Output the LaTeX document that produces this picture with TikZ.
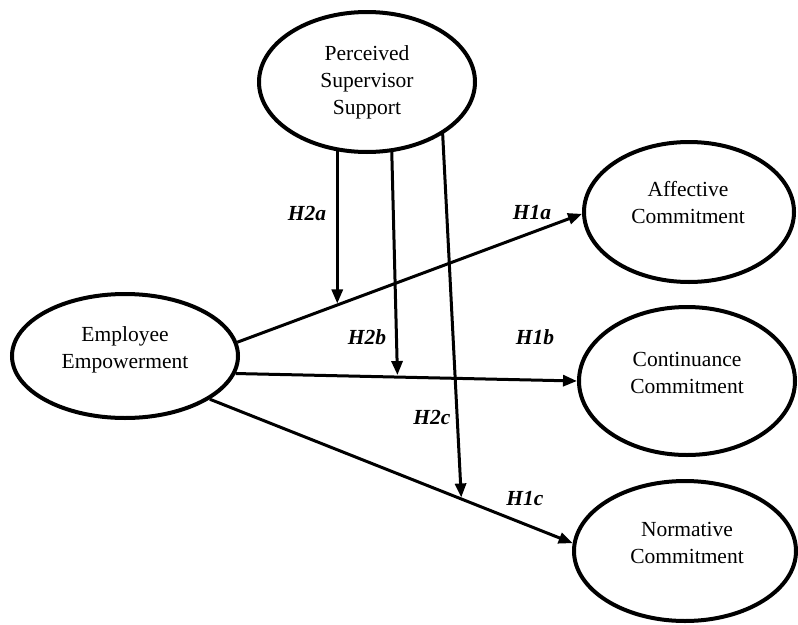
\documentclass[tikz,border=0pt]{standalone}
\usepackage{fontspec}
\setmainfont{Liberation Serif}
\usetikzlibrary{arrows.meta,calc,shapes.geometric}
\pgfdeclarelayer{bg}
\pgfsetlayers{bg,main}
\begin{document}
\begin{tikzpicture}[x=1pt,y=-1pt,
  ell/.style={draw, ellipse, line width=4pt, fill=white, inner sep=0pt},
  txt/.style={font=\fontsize{21.5}{27}\selectfont, align=center, inner sep=0pt},
  hyp/.style={font=\fontsize{21.5}{25}\selectfont\bfseries\itshape, inner sep=0pt},
  arr/.style={line width=3pt, -{Triangle[length=14pt,width=11pt]}}]
\useasboundingbox (0,0) rectangle (798,624);
% ellipses
\node[ell, minimum width=216pt, minimum height=140pt] (PSS) at (367,82) {};
\node[ell, minimum width=210pt, minimum height=140pt] (AC) at (689,212) {};
\node[ell, minimum width=216pt, minimum height=148pt] (CC) at (687,381) {};
\node[ell, minimum width=222pt, minimum height=140pt] (NC) at (685,551) {};
\node[ell, minimum width=226pt, minimum height=124pt] (EE) at (125,356) {};
% texts
\node[txt] (tPSS) at (367,82) {Perceived\\Supervisor\\Support};
\node[txt] (tAC) at (688,203) {Affective\\Commitment};
\node[txt] (tCC) at (687,373) {Continuance\\Commitment};
\node[txt] (tNC) at (687,543) {Normative\\Commitment};
\node[txt] (tEE) at (125,350) {Employee\\Empowerment};
% connectors
\begin{pgfonlayer}{bg}
\draw[arr] (EE.7) -- coordinate[pos=0.29] (h2a) (AC.181);
\draw[arr] (EE.-9.5) -- coordinate[pos=0.474] (h2b) (CC.180);
\draw[arr] (EE.-27) -- coordinate[pos=0.693] (h2c) (NC.176);
\draw[arr] (PSS.center -| h2a) -- ($(h2a)+(0,-1.5)$);
\draw[arr] ($(PSS.center)+(23,0)$) -- ($(h2b)+(0,-2)$);
\draw[arr] ($(PSS.center)+(73,0)$) -- ($(h2c)+(0,-1.5)$);
\end{pgfonlayer}
% labels
\node[hyp] (L2a) at (307,213) {H2a};
\node[hyp] (L1a) at (532,213) {H1a};
\node[hyp] (L2b) at (367,337) {H2b};
\node[hyp] (L1b) at (535,337) {H1b};
\node[hyp] (L2c) at (432,417) {H2c};
\node[hyp] (L1c) at (525,499) {H1c};
\end{tikzpicture}
\end{document}
